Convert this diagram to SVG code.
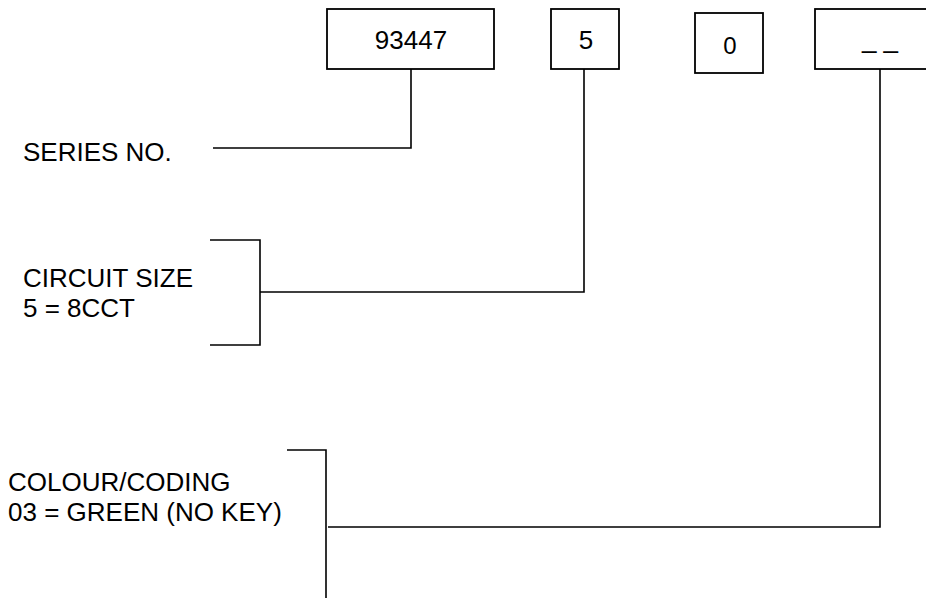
<svg xmlns="http://www.w3.org/2000/svg" width="926" height="598" viewBox="0 0 926 598">
<style>
.box{fill:#fff;stroke:#000;stroke-width:1.8}
.ln{fill:none;stroke:#000;stroke-width:1.6}
text{font-family:"Liberation Sans",Arial,sans-serif;font-size:26px;fill:#000}
.c{text-anchor:middle}
</style>
<rect width="926" height="598" fill="#fff"/>
<g id="connectors">
<polyline class="ln" points="213,148 411,148 411,69"/>
<polyline class="ln" points="260,292 584,292 584,69"/>
<polyline class="ln" points="210,240 260,240 260,345 210,345"/>
<polyline class="ln" points="328,527 880,527 880,69"/>
<polyline class="ln" points="287,450 326,450 326,598"/>
</g>
<g id="node-series"><rect class="box" x="327" y="9" width="167" height="60"/><text class="c" x="411" y="49">93447</text></g>
<g id="node-circuit"><rect class="box" x="551" y="9" width="68" height="60"/><text class="c" x="586" y="49">5</text></g>
<g id="node-zero"><rect class="box" x="695" y="13" width="68" height="60"/><text class="c" x="730" y="54" style="font-size:24px">0</text></g>
<g id="node-colour"><rect class="box" x="815" y="9" width="130" height="60"/><text class="c" x="880" y="48">_ _</text></g>
<g id="label-series"><text x="23" y="161">SERIES NO.</text></g>
<g id="label-circuit"><text x="23" y="287">CIRCUIT SIZE</text><text x="23" y="317">5 = 8CCT</text></g>
<g id="label-colour"><text x="8" y="491">COLOUR/CODING</text><text x="8" y="521">03 = GREEN (NO KEY)</text></g>
</svg>
